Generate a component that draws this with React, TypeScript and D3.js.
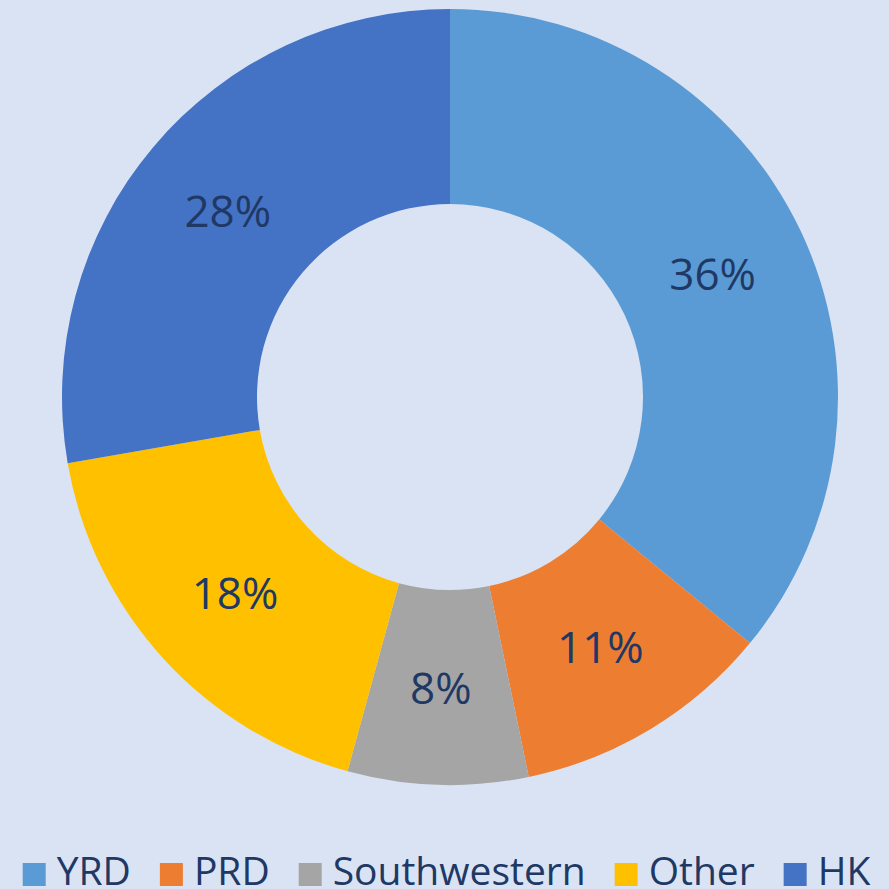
import React from "react";
import * as d3 from "d3";

const categories = ["YRD", "PRD", "Southwestern", "Other", "HK"];
const values = [35.9, 10.8, 7.5, 18.0, 27.7];
const colors = ["#5B9BD5", "#ED7D31", "#A5A5A5", "#FFC000", "#4472C4"];

const W = 889;
const H = 889;
const FONT = "'Open Sans', 'Noto Sans', sans-serif";

function measure(text: string, size: number): number {
  if (typeof document === "undefined") return text.length * size * 0.55;
  const c = document.createElement("canvas");
  const ctx = c.getContext("2d");
  if (!ctx) return text.length * size * 0.55;
  ctx.font = `${size}px 'Open Sans'`;
  return ctx.measureText(text).width;
}

export default function App() {
  const cx = 450;
  const cy = 397;
  const outer = 388;
  const inner = 193;
  const total = d3.sum(values);
  const pie = d3.pie<number>().sort(null).value((d) => d)(values);
  const arc = d3.arc<d3.PieArcDatum<number>>().innerRadius(inner).outerRadius(outer);

  const legendSize = 39;
  const sq = 23;
  const gapSqText = 11;
  const gapItem = 29;
  const widths = categories.map((c) => measure(c, legendSize));
  const totalW = widths.reduce((a, w) => a + sq + gapSqText + w, 0) + gapItem * (categories.length - 1);
  let x = (W - totalW) / 2 + 2;
  const legendItems = categories.map((c, i) => {
    const item = { x, w: widths[i], c, i };
    x += sq + gapSqText + widths[i] + gapItem;
    return item;
  });

  return (
    <div style={{ position: "fixed", left: 0, top: 0 }}>
      <svg width={W} height={H} style={{ display: "block" }}>
        <rect width={W} height={H} fill="#DAE3F3" />
        <g transform={`translate(${cx},${cy})`}>
          {pie.map((p, i) => (
            <path key={i} d={arc(p) || ""} fill={colors[i]} />
          ))}
          {pie.map((p, i) => {
            const [lx, ly] = arc.centroid(p);
            return (
              <text
                key={"l" + i}
                x={lx}
                y={ly}
                textAnchor="middle"
                dominantBaseline="central"
                fontFamily={FONT}
                fontSize={44}
                fill="#203864"
              >
                {Math.round((values[i] / total) * 100) + "%"}
              </text>
            );
          })}
        </g>
        <g>
          {legendItems.map((it) => (
            <g key={it.c}>
              <rect x={it.x} y={863} width={sq} height={sq} fill={colors[it.i]} />
              <text
                x={it.x + sq + gapSqText}
                y={885}
                fontFamily={FONT}
                fontSize={legendSize}
                fill="#203864"
              >
                {it.c}
              </text>
            </g>
          ))}
        </g>
      </svg>
    </div>
  );
}
